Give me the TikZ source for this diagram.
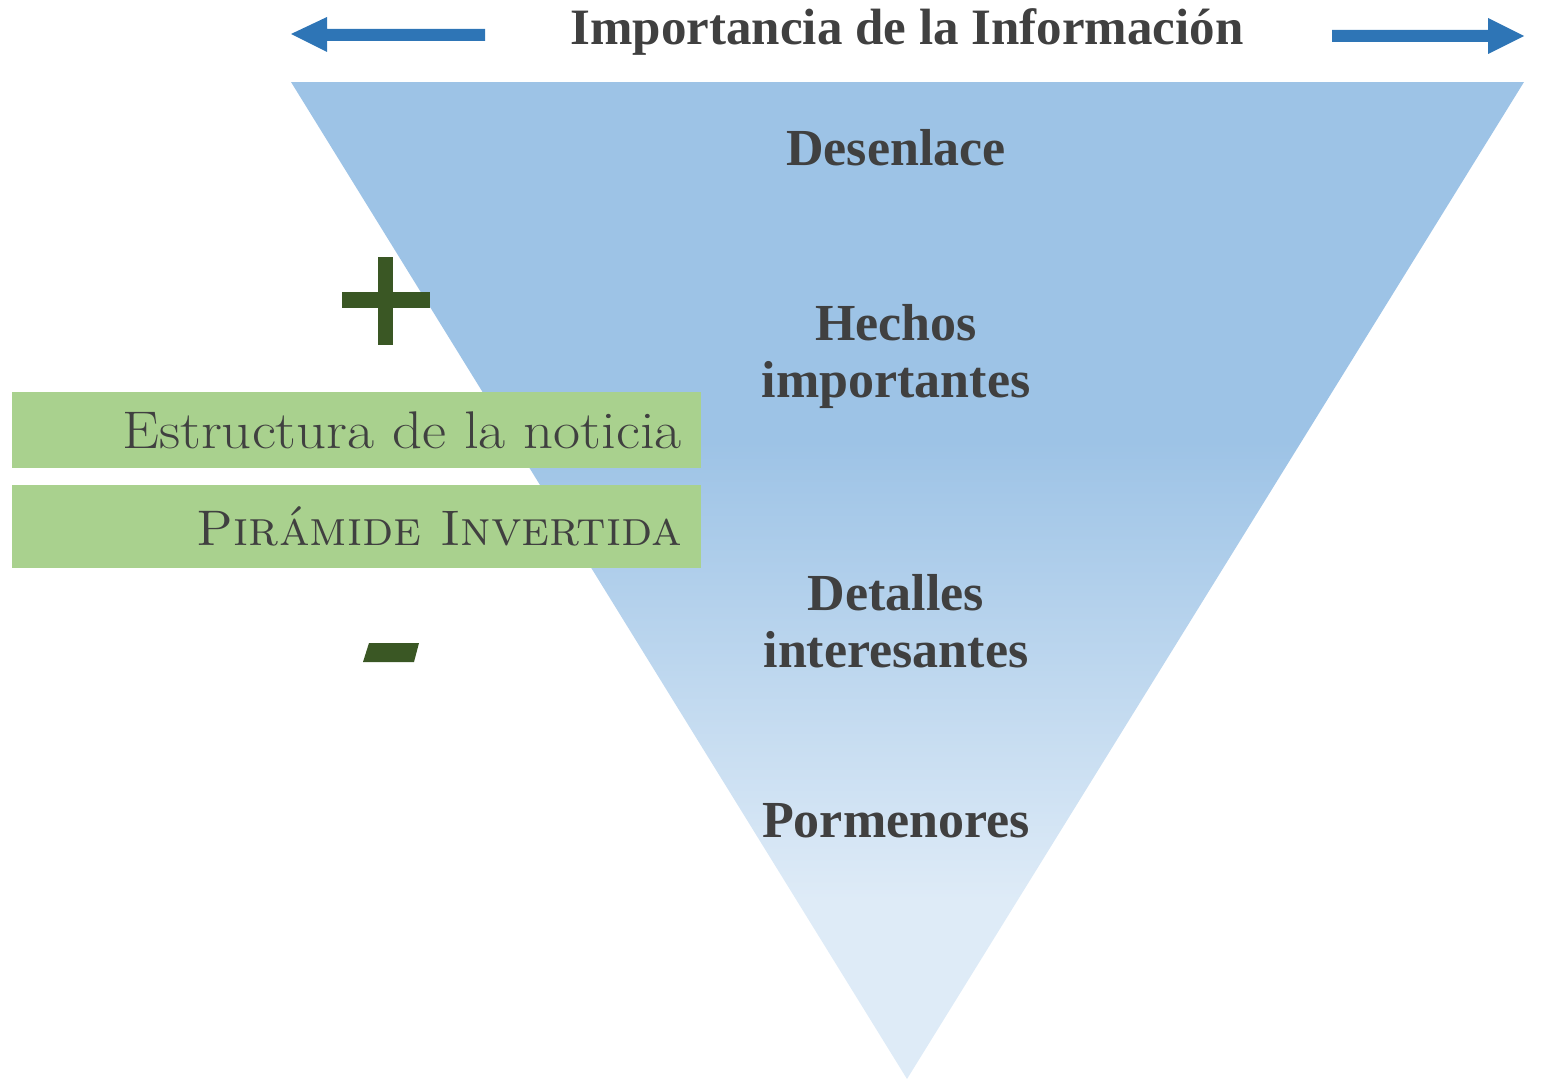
\documentclass[tikz,border=0pt]{standalone}
\usepackage{fontspec}
\newfontfamily\palfont{Liberation Serif}
\definecolor{pyrdark}{HTML}{9DC3E6}
\definecolor{pyrlight}{HTML}{DEEBF7}
\definecolor{arrowblue}{HTML}{2E75B6}
\definecolor{boxgreen}{HTML}{A9D18E}
\definecolor{signgreen}{HTML}{3A5724}
\definecolor{txtgray}{HTML}{404040}
\pgfdeclareverticalshading{pyrshade}{100bp}{color(0bp)=(pyrlight); color(34bp)=(pyrlight); color(57bp)=(pyrdark); color(100bp)=(pyrdark)}
\tikzset{
  pyrtext/.style={text=txtgray, font=\palfont\bfseries\fontsize{52}{57}\selectfont, align=center, inner sep=0pt},
  titletext/.style={text=txtgray, font=\palfont\bfseries\fontsize{51}{57}\selectfont, inner sep=0pt},
  boxtext/.style={text=txtgray, font=\fontsize{53}{60}\selectfont, inner sep=0pt, anchor=base east},
  greenbox/.style={fill=boxgreen, draw=none},
  bigarrow/.style={fill=arrowblue, draw=none},
}
\begin{document}
\begin{tikzpicture}[x=1pt,y=-1pt]
\useasboundingbox (0,0) rectangle (1542,1081);
% pyramid
\path[shading=pyrshade] (291,82) -- (1524,82) -- (907,1079) -- cycle;
% arrows
\fill[bigarrow] (291,34) -- (327,17) -- (327,29) -- (485,29) -- (485,41) -- (327,41) -- (327,52) -- cycle;
\fill[bigarrow] (1524,36) -- (1488,18) -- (1488,30) -- (1332,30) -- (1332,42) -- (1488,42) -- (1488,54) -- cycle;
\node[titletext, anchor=base] (title) at (907,45) {Importancia de la Información};
% plus / minus
\fill[signgreen] (378,257) rectangle (393,345);
\fill[signgreen] (342,292) rectangle (430,308);
\fill[signgreen] (369,643) -- (419,643) -- (414,662) -- (363,662) -- cycle;
% green boxes
\fill[greenbox] (12,392) rectangle (701,468);
\fill[greenbox] (12,485) rectangle (701,568);
\node[boxtext] (estr) at (682,448) {\scalebox{1.11}[1]{Estructura de la noticia}};
\node[boxtext, font=\fontsize{50}{60}\selectfont] (pir) at (682,545) {\textsc{Pirámide Invertida}};
% pyramid labels
\node[pyrtext, anchor=base] (des) at (896,165) {Desenlace};
\node[pyrtext, anchor=base] (hec) at (896,397) {Hechos\\importantes};
\node[pyrtext, anchor=base] (det) at (896,667) {Detalles\\interesantes};
\node[pyrtext, anchor=base] (por) at (896,837) {Pormenores};
\end{tikzpicture}
\end{document}
